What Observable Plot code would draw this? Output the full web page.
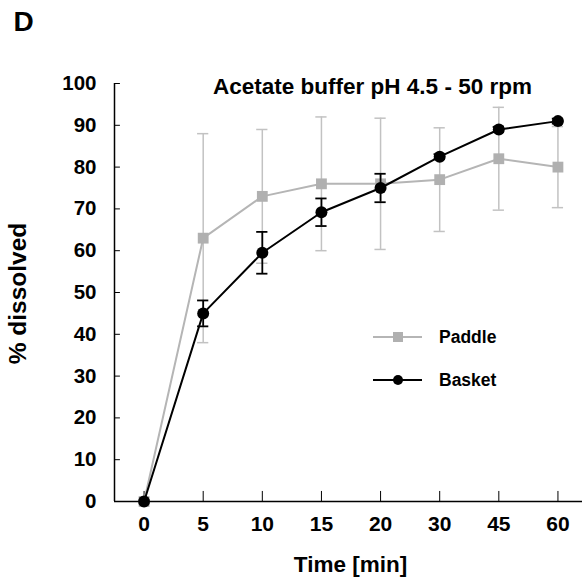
<!DOCTYPE html>
<html>
<head>
<meta charset="utf-8">
<script src="https://cdn.jsdelivr.net/npm/d3@7"></script>
<script src="https://cdn.jsdelivr.net/npm/@observablehq/plot@0.6"></script>
<style>
  html, body { margin: 0; padding: 0; background: #fff; }
  #chart { width: 582px; height: 586px; }
</style>
</head>
<body>
<div id="chart"></div>
<script>
// Sampling times (min), shown as evenly spaced categories
const times = ["0", "5", "10", "15", "20", "30", "45", "60"];
// Paddle apparatus: mean % dissolved and SD
const paddleMean = [0, 63, 73, 76, 76, 77, 82, 80];
const paddleSD = [0, 25, 16, 16, 15.7, 12.4, 12.3, 9.7];
// Basket apparatus: mean % dissolved and SD
const basketMean = [0, 45, 59.5, 69.2, 75, 82.5, 89, 91];
const basketSD = [0, 3.1, 5, 3.3, 3.4, 0.6, 0.6, 0.6];
const yTicks = [0, 10, 20, 30, 40, 50, 60, 70, 80, 90, 100];

const paddle = times.map((t, i) => ({i, t, m: paddleMean[i], sd: paddleSD[i]}));
const basket = times.map((t, i) => ({i, t, m: basketMean[i], sd: basketSD[i]}));

const FONT = "'Liberation Sans', Arial, Helvetica, sans-serif";
const GREY_BAR = "#c2c2c2", GREY_LINE = "#b5b5b5", GREY_PT = "#b0b0b0";
const CAP = 0.095; // half-width of error-bar caps, in category steps

function errorBars(data, color, width) {
  const withSD = data.filter(d => d.sd > 0);
  return [
    Plot.ruleX(withSD, {x: "i", y1: d => d.m - d.sd, y2: d => d.m + d.sd, stroke: color, strokeWidth: width}),
    Plot.ruleY(withSD, {y: d => d.m + d.sd, x1: d => d.i - CAP, x2: d => d.i + CAP, stroke: color, strokeWidth: width}),
    Plot.ruleY(withSD, {y: d => d.m - d.sd, x1: d => d.i - CAP, x2: d => d.i + CAP, stroke: color, strokeWidth: width})
  ];
}

const chart = Plot.plot({
  width: 582,
  height: 586,
  marginLeft: 114,
  marginRight: 0,
  marginTop: 83,
  marginBottom: 85,
  style: {fontFamily: FONT, fontWeight: "bold", fontSize: "20px", color: "#000", background: "#fff"},
  x: {type: "linear", domain: [-0.5, 7.5], range: [114, 587], axis: null},
  y: {domain: [0, 100], axis: null},
  marks: [
    // axes frame
    Plot.ruleX([-0.5], {y1: 0, y2: 100, stroke: "#000", strokeWidth: 1.5}),
    Plot.ruleY([0], {stroke: "#000", strokeWidth: 1.5}),
    // inward ticks
    Plot.ruleY(yTicks, {y: d => d, x1: -0.5, x2: -0.5 + 0.1, stroke: "#000", strokeWidth: 1}),
    Plot.ruleX(d3.range(times.length), {x: d => d, y1: 0, y2: 2.4, stroke: "#000", strokeWidth: 1}),
    // tick labels
    Plot.text(yTicks, {x: -0.5, y: d => d, text: d => String(d), textAnchor: "end", dx: -18, fontSize: 20.5, fontWeight: "bold"}),
    Plot.text(times, {x: (d, i) => i, y: 0, text: d => d, dy: 23, fontSize: 21, fontWeight: "bold"}),
    // paddle series
    ...errorBars(paddle, GREY_BAR, 1.5),
    Plot.line(paddle, {x: "i", y: "m", stroke: GREY_LINE, strokeWidth: 2}),
    Plot.dot(paddle, {x: "i", y: "m", symbol: "square", r: 6.1, fill: GREY_PT, stroke: "none"}),
    // basket series
    ...errorBars(basket, "#000", 1.8),
    Plot.line(basket, {x: "i", y: "m", stroke: "#000", strokeWidth: 2}),
    Plot.dot(basket, {x: "i", y: "m", r: 6, fill: "#000", stroke: "none"}),
    // titles
    Plot.text(["Acetate buffer pH 4.5 - 50 rpm"], {frameAnchor: "top", dx: 24, dy: 3, fontSize: 22.5, fontWeight: "bold", lineAnchor: "middle"}),
    Plot.text(["Time [min]"], {frameAnchor: "bottom", dx: 2, dy: 70, fontSize: 22.5, fontWeight: "bold"}),
    Plot.text(["% dissolved"], {frameAnchor: "left", textAnchor: "middle", dx: -96, dy: 1, rotate: -90, fontSize: 24.5, fontWeight: "bold"}),
    Plot.text(["D"], {frameAnchor: "top-left", textAnchor: "start", dx: -101, dy: -72, fontSize: 28, fontWeight: "bold"})
  ]
});

// legend
const svg = d3.select(chart);
const leg = svg.append("g").attr("font-family", FONT).attr("font-weight", "bold")
  .attr("font-size", 17.5).attr("text-anchor", "start");
const entries = [
  {label: "Paddle", y: 337, color: GREY_LINE, fill: GREY_PT, shape: "square"},
  {label: "Basket", y: 380, color: "#000", fill: "#000", shape: "circle"}
];
for (const e of entries) {
  leg.append("line").attr("x1", 373).attr("x2", 422).attr("y1", e.y).attr("y2", e.y)
    .attr("stroke", e.color).attr("stroke-width", 2);
  if (e.shape === "square") {
    leg.append("rect").attr("x", 398 - 5).attr("y", e.y - 5).attr("width", 10).attr("height", 10).attr("fill", e.fill);
  } else {
    leg.append("circle").attr("cx", 398).attr("cy", e.y).attr("r", 5).attr("fill", e.fill);
  }
  leg.append("text").attr("x", 439).attr("y", e.y).attr("dy", "0.35em").text(e.label);
}

document.getElementById("chart").appendChild(chart);
</script>
</body>
</html>
